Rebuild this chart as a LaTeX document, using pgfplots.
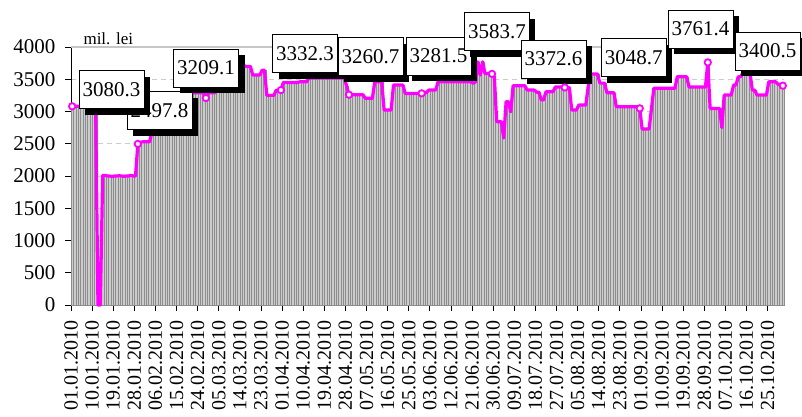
\documentclass[border=0pt]{standalone}
\usepackage{pgfplots}
\pgfplotsset{compat=1.18}
\usepackage{pgfplotstable}
\usepackage{fontspec}
\setmainfont{Liberation Serif}
\usetikzlibrary{shadows}
\definecolor{mag}{RGB}{255,0,255}
\pgfplotstableread{
x y
0 3080.3
1 3080.3
2 3080.3
3 3080.3
4 3080.3
5 3080.3
6 3080.3
7 3080.3
8 3080.3
9 3080.3
10 3080.3
11 0
12 0
13 2010
14 2010
15 2000
16 2000
17 1990
18 2000
19 2000
20 2005
21 2000
22 1995
23 2000
24 2000
25 2010
26 2000
27 2000
28 2497.8
29 2520
30 2530
31 2530
32 2530
33 2530
34 2680
35 2680
36 2680
37 2680
38 2680
39 2870
40 2870
41 2870
42 2870
43 2870
44 2870
45 3060
46 3060
47 3060
48 3060
49 3060
50 3060
51 3290
52 3290
53 3290
54 3290
55 3290
56 3290
57 3209.1
58 3290
59 3290
60 3290
61 3290
62 3500
63 3500
64 3500
65 3500
66 3500
67 3500
68 3700
69 3700
70 3700
71 3700
72 3720
73 3720
74 3700
75 3700
76 3700
77 3565
78 3565
79 3565
80 3565
81 3640
82 3640
83 3250
84 3250
85 3250
86 3250
87 3330
88 3330
89 3332.3
90 3450
91 3450
92 3450
93 3450
94 3450
95 3450
96 3450
97 3460
98 3460
99 3460
100 3460
101 3520
102 3520
103 3520
104 3520
105 3520
106 3520
107 3520
108 3520
109 3520
110 3520
111 3520
112 3520
113 3520
114 3520
115 3520
116 3520
117 3400
118 3260.7
119 3260
120 3260
121 3260
122 3260
123 3260
124 3260
125 3204
126 3204
127 3204
128 3204
129 3460
130 3460
131 3460
132 3460
133 3022
134 3022
135 3022
136 3022
137 3410
138 3410
139 3410
140 3410
141 3410
142 3280
143 3280
144 3280
145 3280
146 3280
147 3280
148 3280
149 3281.5
150 3290
151 3290
152 3332
153 3332
154 3332
155 3332
156 3460
157 3460
158 3460
159 3460
160 3460
161 3460
162 3460
163 3460
164 3460
165 3460
166 3460
167 3460
168 3460
169 3460
170 3460
171 3436
172 3460
173 3771
174 3565
175 3771
176 3590
177 3590
178 3590
179 3583.7
180 3540
181 2841
182 2841
183 2841
184 2588
185 3151
186 3151
187 2996
188 3400
189 3400
190 3400
191 3400
192 3400
193 3400
194 3332
195 3332
196 3332
197 3332
198 3300
199 3300
200 3180
201 3180
202 3306
203 3306
204 3306
205 3306
206 3380
207 3380
208 3380
209 3380
210 3372.6
211 3372
212 3372
213 3022
214 3022
215 3022
216 3100
217 3100
218 3100
219 3100
220 3383
221 3580
222 3580
223 3580
224 3580
225 3440
226 3440
227 3440
228 3290
229 3290
230 3290
231 3290
232 3075
233 3075
234 3075
235 3075
236 3075
237 3075
238 3075
239 3075
240 3075
241 3075
242 3048.7
243 2730
244 2730
245 2730
246 2730
247 3050
248 3360
249 3360
250 3360
251 3360
252 3360
253 3360
254 3360
255 3360
256 3360
257 3360
258 3540
259 3540
260 3540
261 3540
262 3540
263 3380
264 3380
265 3380
266 3380
267 3380
268 3380
269 3380
270 3380
271 3761.4
272 3048
273 3048
274 3048
275 3048
276 3048
277 2750
278 3255
279 3255
280 3255
281 3255
282 3410
283 3410
284 3540
285 3540
286 3600
287 3600
288 3600
289 3600
290 3332
291 3332
292 3255
293 3255
294 3255
295 3255
296 3255
297 3460
298 3460
299 3460
300 3460
301 3420
302 3420
303 3400.5
}\data

\tikzset{lbl/.style={draw=black, fill=white, line width=0.6pt,
  minimum width=65pt, minimum height=38pt, inner sep=1pt,
  font=\fontsize{21}{21}\selectfont,
  drop shadow={shadow xshift=6pt, shadow yshift=-6pt, fill=black, opacity=1}}}

\begin{document}
\begin{tikzpicture}
\useasboundingbox (0,0) rectangle (802pt,416pt);
\begin{axis}[
  at={(71pt,111pt)}, anchor=south west,
  scale only axis, width=713pt, height=258pt,
  xmin=-0.5, xmax=303.5, ymin=0, ymax=4000,
  axis lines=left, axis line style={-, black, line width=0.8pt},
  ytick={0,500,...,4000},
  xtick={-0.5,8.5,...,296.5},
  xticklabels={01.01.2010,10.01.2010,19.01.2010,28.01.2010,06.02.2010,15.02.2010,24.02.2010,05.03.2010,14.03.2010,23.03.2010,01.04.2010,10.04.2010,19.04.2010,28.04.2010,07.05.2010,16.05.2010,25.05.2010,03.06.2010,12.06.2010,21.06.2010,30.06.2010,09.07.2010,18.07.2010,27.07.2010,05.08.2010,14.08.2010,23.08.2010,01.09.2010,10.09.2010,19.09.2010,28.09.2010,07.10.2010,16.10.2010,25.10.2010},
  tick align=outside, major tick length=6pt,
  tick style={black, line width=0.8pt},
  xticklabel shift=6pt, yticklabel shift=6pt,
  ymajorgrids, major grid style={gray!40, dash pattern=on 5pt off 4pt, line width=0.8pt},
  x tick label style={rotate=90, anchor=east, font=\fontsize{20}{20}\selectfont},
  y tick label style={font=\fontsize{21}{21}\selectfont, /pgf/number format/1000 sep={}},
  /pgf/number format/assume math mode=true,
  clip=false,
]
\draw[gray!45, line width=1.8pt] (rel axis cs:0,1) -- (rel axis cs:1,1);
\addplot[ybar, bar width=1, fill=black!20, draw=black!45, line width=0.3pt] table[x=x,y=y]{\data};
\addplot[mag, line width=3.2pt, line join=round, no marks] table[x=x,y=y]{\data};
\addplot[only marks, mark=*, mark size=3.2pt, mark options={fill=white, draw=mag, line width=1.8pt}] coordinates {(0,3080.3) (28,2497.8) (57,3209.1) (89,3332.3) (118,3260.7) (149,3281.5) (179,3583.7) (210,3372.6) (242,3048.7) (271,3761.4) (303,3400.5)};
\node[lbl] at (axis cs:37.2,3015) {2497.8};
\node[lbl] at (axis cs:16.8,3340) {3080.3};
\node[lbl] at (axis cs:57.1,3674) {3209.1};
\node[lbl] at (axis cs:99.3,3898) {3332.3};
\node[lbl] at (axis cs:127.2,3852) {3260.7};
\node[lbl] at (axis cs:156.2,3860) {3281.5};
\node[lbl] at (axis cs:181.1,4239) {3583.7};
\node[lbl] at (axis cs:205.2,3813) {3372.6};
\node[lbl] at (axis cs:239.4,3836) {3048.7};
\node[lbl] at (axis cs:267.9,4278) {3761.4};
\node[lbl] at (axis cs:296.5,3937) {3400.5};
\end{axis}
\node[anchor=base west, font=\fontsize{17}{17}\selectfont] at (80pt,371pt) {mil. lei};
\end{tikzpicture}
\end{document}
